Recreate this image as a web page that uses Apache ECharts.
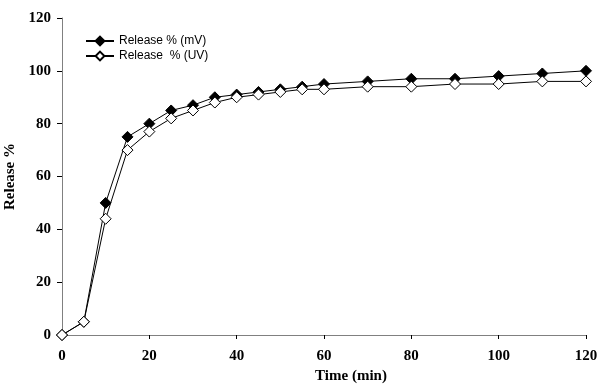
<!DOCTYPE html>
<html>
<head>
<meta charset="utf-8">
<script src="https://cdn.jsdelivr.net/npm/echarts@6/dist/echarts.min.js"></script>
<style>
  html, body { margin: 0; padding: 0; background: #fff; }
  #chart { width: 600px; height: 389px; }
</style>
</head>
<body>
<div id="chart"></div>
<script>
// time points (min)
const times = [0, 5, 10, 15, 20, 25, 30, 35, 40, 45, 50, 55, 60, 70, 80, 90, 100, 110, 120];
// release % measured by mV
const releaseMv = [0, 5, 50, 75, 80, 85, 87, 90, 91, 92, 93, 94, 95, 96, 97, 97, 98, 99, 100];
// release % measured by UV
const releaseUv = [0, 5, 44, 70, 77, 82, 85, 88, 90, 91, 92, 93, 93, 94, 94, 95, 95, 96, 96];

const pairs = (xs, ys) => xs.map((x, i) => [x, ys[i]]);

const axisFont = { fontFamily: 'Liberation Serif', fontWeight: 'bold', fontSize: 15, color: '#000' };

const myChart = echarts.init(document.getElementById('chart'));
myChart.setOption({
  animation: false,
  grid: { left: 62, right: 14, top: 18, bottom: 54, outerBoundsMode: 'none' },
  legend: {
    orient: 'vertical',
    left: 80, top: 30,
    itemWidth: 28, itemHeight: 11, itemGap: 3,
    textStyle: { fontFamily: 'Liberation Sans', fontSize: 12, color: '#000' },
    data: ['Release % (mV)', 'Release  % (UV)']
  },
  xAxis: {
    type: 'value', min: 0, max: 120, interval: 20,
    name: 'Time (min)', nameLocation: 'middle', nameGap: 30,
    nameTextStyle: Object.assign({ padding: [0, 0, 0, 54] }, axisFont),
    axisLine: { lineStyle: { color: '#808080', width: 1 } },
    axisTick: { inside: false, length: 4, lineStyle: { color: '#000' } },
    axisLabel: Object.assign({ margin: 14 }, axisFont),
    splitLine: { show: false }
  },
  yAxis: {
    type: 'value', min: 0, max: 120, interval: 20,
    name: 'Release %', nameLocation: 'middle', nameGap: 41,
    nameTextStyle: axisFont,
    axisLine: { show: true, lineStyle: { color: '#808080', width: 1 } },
    axisTick: { show: true, length: 5, lineStyle: { color: '#000' } },
    axisLabel: Object.assign({ margin: 11 }, axisFont),
    splitLine: { show: false }
  },
  series: [
    {
      name: 'Release % (mV)', type: 'line', data: pairs(times, releaseMv),
      symbol: 'diamond', symbolSize: 11,
      lineStyle: { color: '#000', width: 1 },
      itemStyle: { color: '#000', borderColor: '#000', borderWidth: 1 }
    },
    {
      name: 'Release  % (UV)', type: 'line', data: pairs(times, releaseUv),
      symbol: 'diamond', symbolSize: 11,
      lineStyle: { color: '#000', width: 1 },
      itemStyle: { color: '#fff', borderColor: '#000', borderWidth: 1 }
    }
  ]
});
</script>
</body>
</html>
